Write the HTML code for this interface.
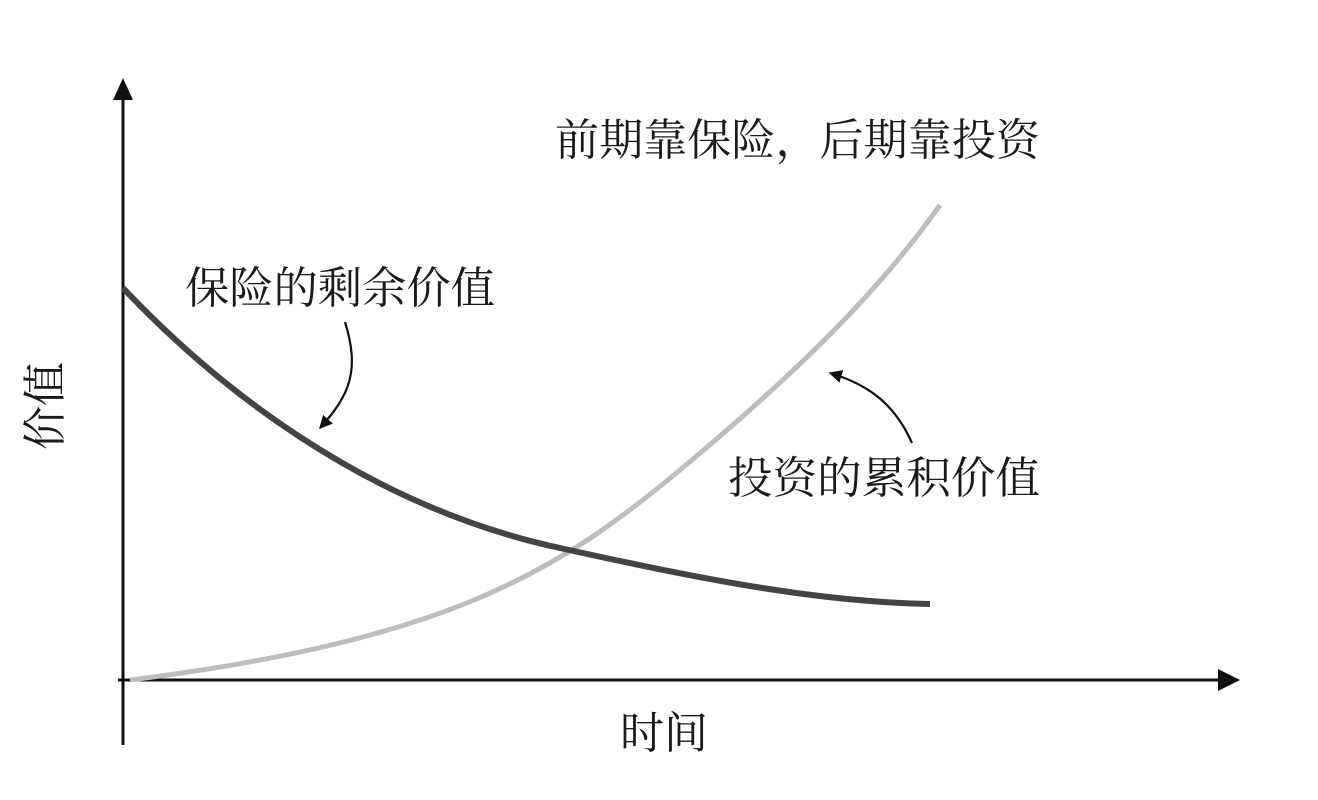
<!DOCTYPE html>
<html><head><meta charset="utf-8"><style>
html,body{margin:0;padding:0;background:#fff;}
svg{display:block;}
text{font-family:"Liberation Serif","Noto Serif CJK SC",serif;fill:#1a1a1a;}
</style></head><body>
<svg width="1318" height="800" viewBox="0 0 1318 800" xmlns="http://www.w3.org/2000/svg">
<defs>
<marker id="a" viewBox="0 0 10 10" refX="9" refY="5" markerWidth="6" markerHeight="6" orient="auto"><path d="M0,0 L10,5 L0,10 Z" fill="#111"/></marker>
</defs>
<line x1="123" y1="95" x2="123" y2="745" stroke="#111" stroke-width="3"/>
<path d="M113,100 L123,78 L133,100 Z" fill="#111"/>
<line x1="118" y1="680" x2="1222" y2="680" stroke="#111" stroke-width="3"/>
<path d="M1218,669 L1240,680 L1218,691 Z" fill="#111"/>
<path d="M130,680 C450,640 560,570 680,470 C800,370 880,290 940,205" fill="none" stroke="#bdbdbd" stroke-width="5"/>
<path d="M123,288 C210,380 360,505 560,548 C704,580 820,602 930,604" fill="none" stroke="#444" stroke-width="6"/>
<path d="M345,322 C360,370 350,395 320,428" fill="none" stroke="#111" stroke-width="2.2" marker-end="url(#a)"/>
<path d="M912,443 C895,405 870,385 830,373" fill="none" stroke="#111" stroke-width="2.2" marker-end="url(#a)"/>
<text x="555" y="155" font-size="44" textLength="485" lengthAdjust="spacingAndGlyphs">前期靠保险，后期靠投资</text>
<text x="185" y="303" font-size="44" textLength="310" lengthAdjust="spacingAndGlyphs">保险的剩余价值</text>
<text x="728" y="493" font-size="44" textLength="312" lengthAdjust="spacingAndGlyphs">投资的累积价值</text>
<text x="620" y="748" font-size="44">时间</text>
<text x="0" y="0" font-size="44" transform="translate(60,450) rotate(-90)">价值</text>
</svg>
</body></html>
